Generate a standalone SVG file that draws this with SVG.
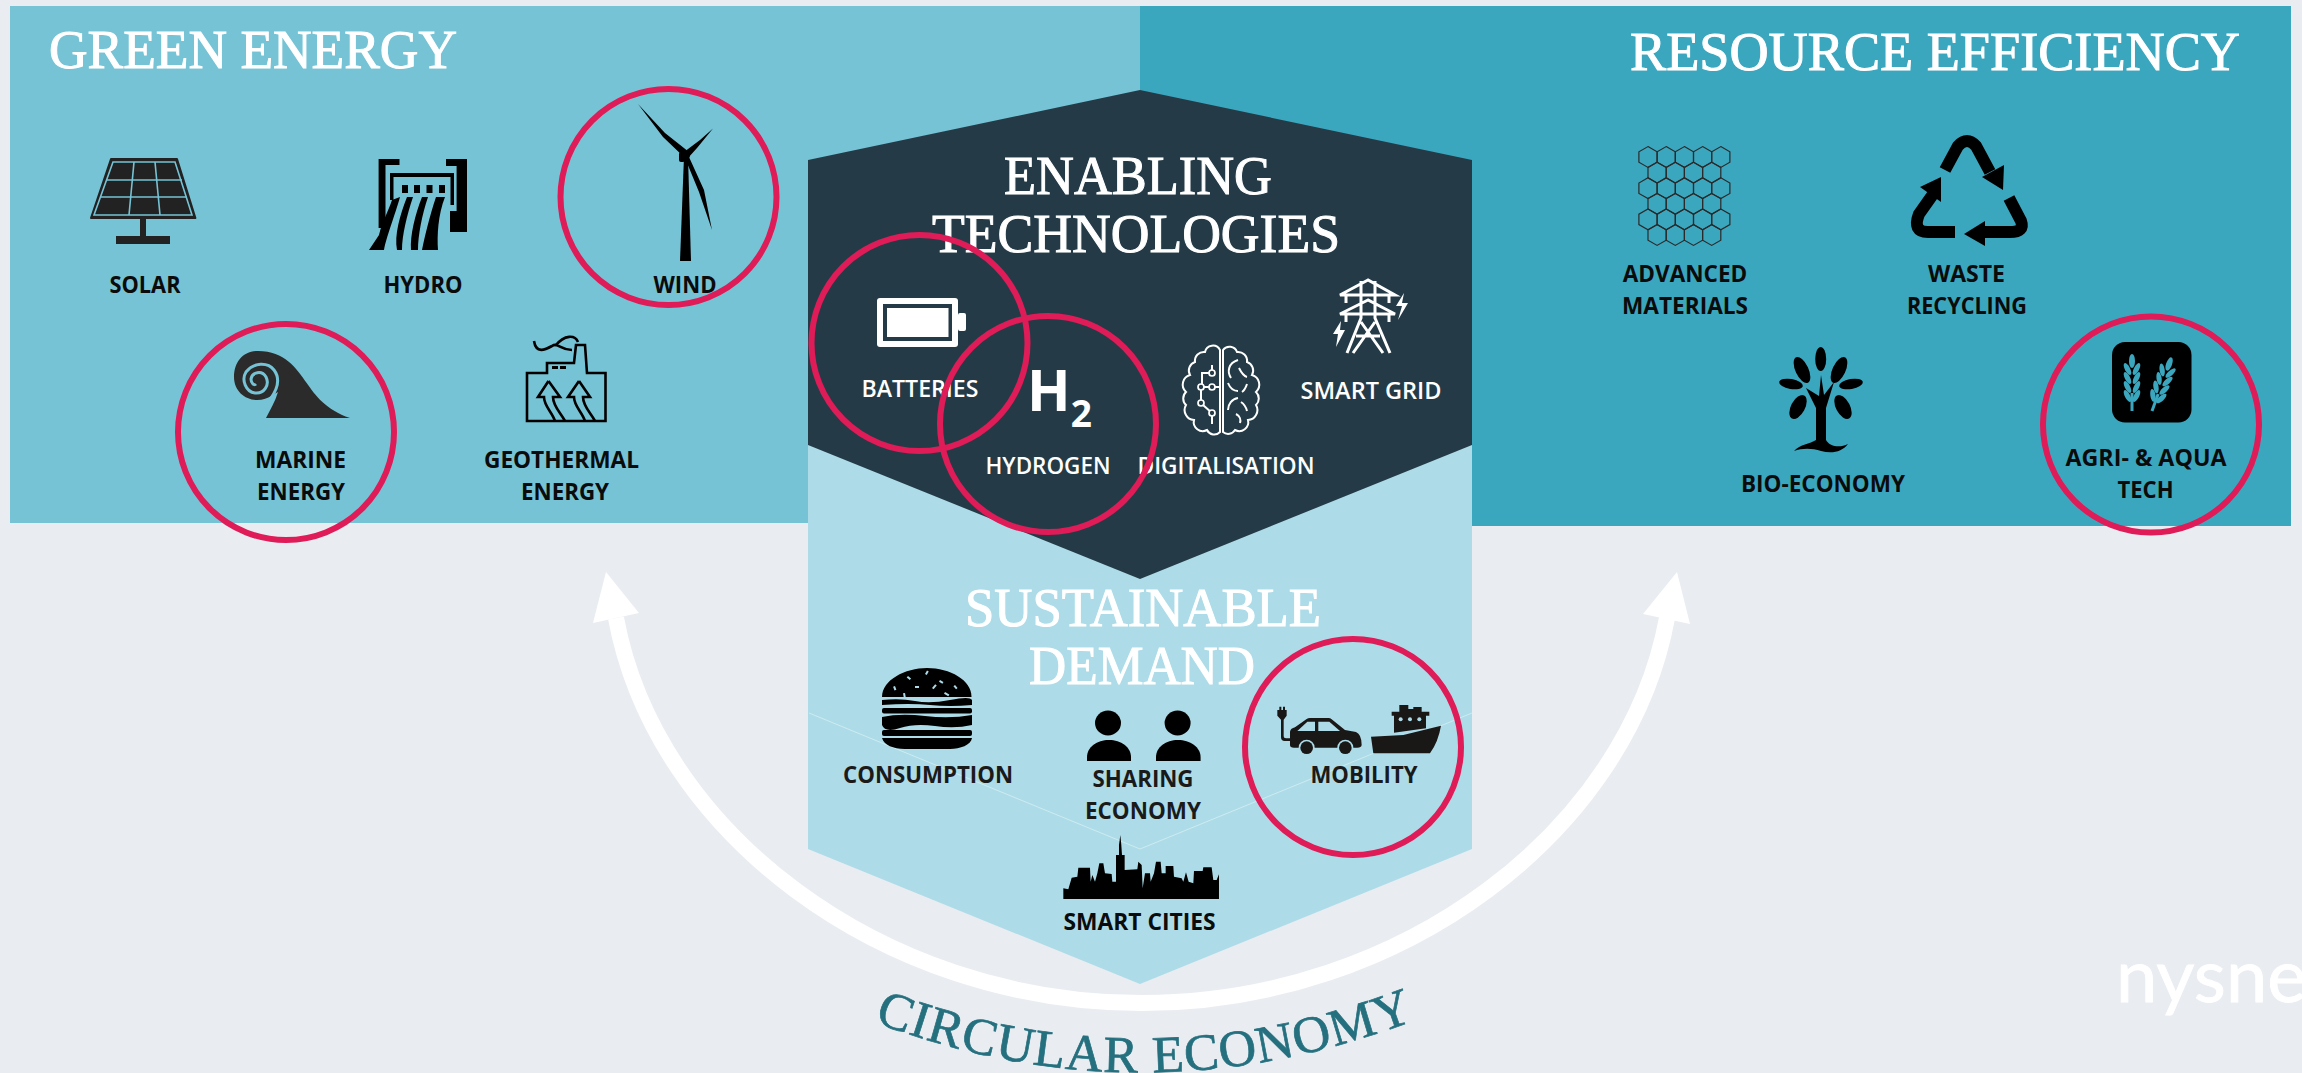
<svg xmlns="http://www.w3.org/2000/svg" width="2302" height="1073" viewBox="0 0 2302 1073">
<style>
.t{font-family:"Liberation Serif","DejaVu Serif",serif;font-size:54px;fill:#fff;stroke:#fff;stroke-width:1}
.k{font-family:"Open Sans","Liberation Sans",sans-serif;font-size:24px;font-weight:700;fill:#0b0b0b;text-anchor:middle}
.d{fill:#1a1a1a}
.w{font-family:"Open Sans","Liberation Sans",sans-serif;font-size:24px;font-weight:600;fill:#fff;text-anchor:middle}
.ring{fill:none;stroke:#DF1B58;stroke-width:6}
.shaft{fill:none;stroke:#fff;stroke-width:16}
</style>
<defs>
<polygon id="hex" points="0,-10.4 9.1,-5.2 9.1,5.2 0,10.4 -9.1,5.2 -9.1,-5.2" fill="none" stroke="#2a2a2a" stroke-width="1.2"/>
<g id="pair" fill="#3BA7BF"><ellipse cx="-4.5" cy="-42" rx="2.6" ry="6.5" transform="rotate(-28 -4.5 -42)"/><ellipse cx="4.5" cy="-42" rx="2.6" ry="6.5" transform="rotate(28 4.5 -42)"/></g>
<g id="wheat" fill="#3BA7BF">
<rect x="-1.5" y="-18" width="3" height="18"/>
<ellipse cx="0" cy="-50" rx="3" ry="7"/>
<use href="#pair"/><use href="#pair" y="9"/><use href="#pair" y="18"/><use href="#pair" y="27"/>
</g>
</defs>
<rect width="2302" height="1073" fill="#E9ECF1"/>
<g id="panels">
<rect x="10" y="6" width="1130" height="517" fill="#76C3D5"/>
<rect x="1140" y="6" width="1151" height="520" fill="#3BA7BF"/>
<polygon points="808,440 1472,440 1472,849 1140,984 808,849" fill="#ADDCE8"/>
<polyline points="809,713 1140,849 1472,713" fill="none" stroke="#CDEBF1" stroke-width="1"/>
<polygon points="1140,90 1472,160 1472,445 1140,579 808,445 808,160" fill="#243B47"/>
</g>
<g id="connectors">
<path class="shaft" d="M616 618C655 830 880 1003 1141.5 1003C1403 1003 1628 830 1667 618"/>
<polygon points="606,572 593,623 639,613" fill="#fff"/>
<polygon points="1677,572 1643,614 1690,624" fill="#fff"/>
</g>
<g id="titles">
<text class="t" x="49" y="68" textLength="408" lengthAdjust="spacingAndGlyphs">GREEN ENERGY</text>
<text class="t" x="1630" y="70" textLength="610" lengthAdjust="spacingAndGlyphs">RESOURCE EFFICIENCY</text>
<text class="t" x="1004" y="194" textLength="268" lengthAdjust="spacingAndGlyphs">ENABLING</text>
<text class="t" x="932" y="252" textLength="408" lengthAdjust="spacingAndGlyphs">TECHNOLOGIES</text>
<text class="t" x="965" y="626" textLength="356" lengthAdjust="spacingAndGlyphs">SUSTAINABLE</text>
<text class="t" x="1029" y="684" textLength="226" lengthAdjust="spacingAndGlyphs">DEMAND</text>
<path id="ce" d="M880 1024Q1142 1122 1410 1022" fill="none"/>
<text font-family="Liberation Serif,serif" font-size="52" fill="#25707F" stroke="#25707F" stroke-width=".7" text-anchor="middle" letter-spacing="1"><textPath href="#ce" startOffset="50%">CIRCULAR ECONOMY</textPath></text>
</g>
<g id="solar">
<polygon points="111,159 177,159 195.4,218 91,218" fill="#222" stroke="#222" stroke-width="2" stroke-linejoin="round"/>
<g stroke="#76C3D5" stroke-width="1.6" fill="none">
<polygon points="113,162 175,162 192,215 94,215"/>
<line x1="106" y1="180" x2="182" y2="180"/><line x1="101" y1="197" x2="187" y2="197"/>
<line x1="134" y1="162" x2="129" y2="215"/><line x1="155" y1="162" x2="160" y2="215"/>
</g>
<rect x="140" y="218" width="6" height="19" fill="#222"/><rect x="116" y="236" width="54" height="8" fill="#222"/>
<text class="k" x="145" y="293" textLength="71" lengthAdjust="spacingAndGlyphs">SOLAR</text>
</g>
<g id="hydro" fill="#000">
<path d="M378.6 159H399.5V165H385.5V228H378.6Z"/><path d="M446 159H467V232H450V211H456.6V166H446Z"/>
<path d="M390 200V173H454V205H450.5V177H393.5V200Z"/>
<rect x="402" y="185" width="6" height="8"/><rect x="414" y="185" width="6" height="8"/><rect x="426.5" y="185" width="6" height="8"/><rect x="439" y="185" width="6" height="8"/>
<path d="M392 200C388 212 382 222 379 235L369 250H384C386 238 395 215 400 197Z"/>
<path d="M407 197C400 215 394 235 397 250H402C402 235 407 215 413 197Z"/>
<path d="M422 197C415 215 410 235 411 250H418C418 235 422 215 428 197Z"/>
<path d="M436 197C430 215 425 235 422 250H438C437 235 438 215 445 197Z"/>
<text class="k" x="423" y="293" textLength="79" lengthAdjust="spacingAndGlyphs">HYDRO</text>
</g>
<g id="wind" fill="#000">
<polygon points="684,156 688,156 691,261 680,261"/>
<circle cx="686" cy="155" r="4"/><rect x="679" y="152" width="6" height="10" rx="2"/>
<path d="M638 104L665 133L689 152L684 157L663 137Z"/>
<path d="M713 128.6L697 148L688 158L684 152L700 140Z"/>
<path d="M712 230L704 190L689 157L685 158L699 192Z"/>
<text class="k" x="685" y="293" textLength="63" lengthAdjust="spacingAndGlyphs">WIND</text>
</g>
<g id="marine">
<path d="M350 418C326 410 315 395 306.7 383C296 368 285 351 258 351C243 351 234 362 234 377C234 391 245 400 257 400C263 400 268 398 271 396L278 392C275 402 270 410 266 418Z" fill="#2b2b2b"/>
<path d="M271 398C278 388 280 378 274 370C268 362 254 362 246 372C241 380 246 392 255 393C264 394 270 385 266 377C262 370 252 372 251 379C251 383 254 386 256 384" fill="none" stroke="#76C3D5" stroke-width="3"/>
<text class="k" x="300.5" y="468" textLength="91" lengthAdjust="spacingAndGlyphs">MARINE</text><text class="k" x="301" y="500" textLength="88" lengthAdjust="spacingAndGlyphs">ENERGY</text>
</g>
<g id="geothermal">
<g fill="none" stroke="#000" stroke-width="2.6">
<path d="M527 373H547V363H574L576 345H585L587 373H605.5V421H527Z"/>
<path d="M534 341C536 354 545 350 552 346C558 342 560 350 572 350M555 346C565 334 575 335 578 342"/>
<path d="M548.5 381L538 397H544C544 406 552 412 555 421M548.5 381L560 397H553C553 406 560 412 565 421"/>
<path d="M579 381L568 397H574C574 406 582 412 585 421M579 381L590 397H583C583 406 590 412 595 421"/>
</g>
<rect x="552" y="366" width="6" height="3" fill="#000"/><rect x="560" y="366" width="6" height="3" fill="#000"/>
<text class="k" x="561.5" y="468" textLength="155" lengthAdjust="spacingAndGlyphs">GEOTHERMAL</text><text class="k" x="565" y="500" textLength="88" lengthAdjust="spacingAndGlyphs">ENERGY</text>
</g>
<g id="batteries">
<rect x="958" y="313" width="8" height="18" rx="2" fill="#fff"/>
<rect x="877" y="298" width="81" height="49" rx="3" fill="#fff"/>
<rect x="883" y="304" width="69" height="37" fill="#243B47"/>
<rect x="887" y="308" width="61.5" height="29" fill="#fff"/>
<text class="w" x="920" y="397" textLength="117" lengthAdjust="spacingAndGlyphs">BATTERIES</text>
</g>
<g id="hydrogen">
<text font-family="Open Sans,Liberation Sans,sans-serif" font-weight="700" font-size="57" fill="#fff" x="1027" y="411">H<tspan font-size="37" dy="16">2</tspan></text>
<text class="w" x="1048" y="474" textLength="125" lengthAdjust="spacingAndGlyphs">HYDROGEN</text>
</g>
<g id="digitalisation">
<g fill="none" stroke="#fff" stroke-width="2">
<path d="M1220 350A8 8 0 0 0 1205 352A9 9 0 0 0 1195 362A9 9 0 0 0 1190 375A10 10 0 0 0 1186 392A9 9 0 0 0 1186 405A10 10 0 0 0 1194 420A9 9 0 0 0 1207 430A8 8 0 0 0 1220 432Z"/>
<path d="M1223 350A8 8 0 0 1 1237 352A9 9 0 0 1 1247 362A9 9 0 0 1 1252 375A10 10 0 0 1 1256 392A9 9 0 0 1 1256 405A10 10 0 0 1 1248 420A9 9 0 0 1 1235 430A8 8 0 0 1 1223 432Z"/>
<path d="M1212 373H1202V384M1212 365V373M1204 387H1219M1201 390V400M1203 405L1212 413M1212 416V424"/>
<path d="M1238 360C1228 363 1227 372 1231 378M1239 368C1241 372 1243 376 1247 377M1228 383C1230 388 1234 391 1238 391M1247 384Q1245 390 1242 392M1228 410C1228 404 1232 399 1238 398M1241 402C1244 404 1246 407 1247 411M1236 414C1240 416 1241 420 1240 423"/>
</g>
<g fill="#243B47" stroke="#fff" stroke-width="1.7"><circle cx="1212" cy="373" r="3"/><circle cx="1212" cy="387" r="3"/><circle cx="1201" cy="387" r="3"/><circle cx="1201" cy="403" r="3"/><circle cx="1212" cy="413" r="3"/></g>
<text class="w" x="1226" y="474" textLength="177" lengthAdjust="spacingAndGlyphs">DIGITALISATION</text>
</g>
<g id="smart-grid">
<g fill="none" stroke="#fff" stroke-width="3">
<path d="M1368 280L1340 295H1395ZM1368 300L1340 314H1395ZM1361 281V318L1347 353M1375 281V318L1390 353M1361 322L1383 353M1375 322L1353 353M1356 336H1380M1346 295V303M1389 295V303M1346 314V322M1389 314V322"/>
</g>
<polygon points="1404,293 1396,306 1402,306 1398,320 1408,303 1402,303" fill="#fff"/>
<polygon points="1341,321 1333,334 1338,334 1336,347 1345,330 1340,330" fill="#fff"/>
<text class="w" x="1371" y="399" textLength="141" lengthAdjust="spacingAndGlyphs">SMART GRID</text>
</g>
<g id="advanced-materials">
<use href="#hex" x="1648" y="157"/><use href="#hex" x="1666.2" y="157"/><use href="#hex" x="1684.4" y="157"/><use href="#hex" x="1702.6" y="157"/><use href="#hex" x="1720.8" y="157"/>
<use href="#hex" x="1657.1" y="172.6"/><use href="#hex" x="1675.3" y="172.6"/><use href="#hex" x="1693.5" y="172.6"/><use href="#hex" x="1711.7" y="172.6"/>
<use href="#hex" x="1648" y="188.2"/><use href="#hex" x="1666.2" y="188.2"/><use href="#hex" x="1684.4" y="188.2"/><use href="#hex" x="1702.6" y="188.2"/><use href="#hex" x="1720.8" y="188.2"/>
<use href="#hex" x="1657.1" y="203.8"/><use href="#hex" x="1675.3" y="203.8"/><use href="#hex" x="1693.5" y="203.8"/><use href="#hex" x="1711.7" y="203.8"/>
<use href="#hex" x="1648" y="219.4"/><use href="#hex" x="1666.2" y="219.4"/><use href="#hex" x="1684.4" y="219.4"/><use href="#hex" x="1702.6" y="219.4"/><use href="#hex" x="1720.8" y="219.4"/>
<use href="#hex" x="1657.1" y="235"/><use href="#hex" x="1675.3" y="235"/><use href="#hex" x="1693.5" y="235"/><use href="#hex" x="1711.7" y="235"/>
<text class="k" x="1685" y="282" textLength="124.5" lengthAdjust="spacingAndGlyphs">ADVANCED</text><text class="k" x="1685" y="314" textLength="126" lengthAdjust="spacingAndGlyphs">MATERIALS</text>
</g>
<g id="waste-recycling">
<g fill="none" stroke="#000" stroke-width="12">
<path d="M1945 170L1958 146Q1967 136 1976 146L1990 172"/>
<path d="M1955 232H1928Q1912 232 1919 214L1936 190"/>
<path d="M2009 198L2021 221Q2025 232 2010 232H1983"/>
</g>
<polygon points="2003,190 2004,165 1982,177"/><polygon points="1941,177 1920,187 1941,202"/><polygon points="1964,234 1985,221 1985,246"/>
<text class="k" x="1966.5" y="282" textLength="77" lengthAdjust="spacingAndGlyphs">WASTE</text><text class="k" x="1967" y="314" textLength="120" lengthAdjust="spacingAndGlyphs">RECYCLING</text>
</g>
<g id="bio-economy" fill="#000">
<ellipse cx="1820.7" cy="359" rx="5.5" ry="12"/>
<ellipse cx="1802" cy="370" rx="6.5" ry="14" transform="rotate(-25 1802 370)"/><ellipse cx="1839" cy="370" rx="6.5" ry="14" transform="rotate(25 1839 370)"/>
<ellipse cx="1791" cy="384" rx="12" ry="5" transform="rotate(10 1791 384)"/><ellipse cx="1851" cy="384" rx="12" ry="5" transform="rotate(-10 1851 384)"/>
<ellipse cx="1798" cy="407" rx="7" ry="13" transform="rotate(28 1798 407)"/><ellipse cx="1843" cy="407" rx="7" ry="13" transform="rotate(-28 1843 407)"/>
<path d="M1821 375L1824 395L1834 382L1826 408L1826 440C1830 447 1840 448 1848 444C1842 452 1832 454 1821 451C1812 448 1802 448 1794 451C1800 444 1810 444 1816 440V408L1806 388L1819 396Z"/>
<text class="k" x="1823" y="492" textLength="164" lengthAdjust="spacingAndGlyphs">BIO-ECONOMY</text>
</g>
<g id="agri-aqua">
<rect x="2112" y="342" width="79.5" height="80.5" rx="13" fill="#000"/>
<use href="#wheat" x="2132" y="411"/>
<use href="#wheat" transform="translate(2152 411) rotate(20)"/>
<text class="k" x="2146" y="466" textLength="161" lengthAdjust="spacingAndGlyphs">AGRI- &amp; AQUA</text><text class="k" x="2145.5" y="498" textLength="56" lengthAdjust="spacingAndGlyphs">TECH</text>
</g>
<g id="consumption">
<g fill="#000">
<path d="M882 697C882 680 905 668 927 668C950 668 971.5 680 971.5 697Z"/>
<path d="M882 700Q900 698 915 701T950 700T972 700V705Q950 707 930 705T882 705Z"/>
<rect x="882" y="708" width="90" height="5.5" rx="2"/>
<path d="M882 717Q900 713 925 716T972 715V725Q955 729 935 726T900 728T882 725Z"/>
<rect x="882" y="730" width="90" height="6" rx="2"/>
<path d="M882 738H972C971 745 960 749 950 749H905C893 749 884 745 882 738Z"/>
</g>
<g fill="#ADDCE8"><rect x="908" y="676" width="4" height="2" transform="rotate(40 908 676)"/><rect x="925" y="674" width="4" height="2" transform="rotate(-60 925 674)"/><rect x="940" y="680" width="4" height="2" transform="rotate(30 940 680)"/><rect x="955" y="685" width="4" height="2" transform="rotate(50 955 685)"/><rect x="895" y="686" width="4" height="2" transform="rotate(70 895 686)"/><rect x="915" y="686" width="4" height="2"/><rect x="932" y="688" width="5" height="2" transform="rotate(-50 932 688)"/><rect x="905" y="693" width="4" height="2" transform="rotate(80 905 693)"/><rect x="945" y="692" width="5" height="2" transform="rotate(30 945 692)"/></g>
<text class="k d" x="928" y="783" textLength="170" lengthAdjust="spacingAndGlyphs">CONSUMPTION</text>
</g>
<g id="sharing-economy" fill="#000">
<ellipse cx="1108" cy="723" rx="13" ry="12.5"/><path d="M1087 761V757C1087 747 1097 740 1109 740C1121 740 1131 747 1131 757V761Z"/>
<ellipse cx="1177.6" cy="723" rx="13" ry="12.5"/><path d="M1156 761V757C1156 747 1166 740 1178 740C1190 740 1200.6 747 1200.6 757V761Z"/>
<text class="k d" x="1143" y="787" textLength="101" lengthAdjust="spacingAndGlyphs">SHARING</text><text class="k d" x="1143" y="819" textLength="116" lengthAdjust="spacingAndGlyphs">ECONOMY</text>
</g>
<g id="mobility">
<g transform="translate(1270 695) scale(.3333)" fill="#1a1717">
<path d="M28 35H34V45H39V35H45V45H50V62L41 74V124Q41 130 48 130H65V138H44Q33 138 33 126V74L22 62V45H28Z"/>
<path d="M60 150V110Q62 100 75 97L110 72Q114 69 120 69H175Q181 69 185 73L225 105L258 111Q275 118 275 150Q274 158 262 158H72Q60 158 60 150Z"/>
<path d="M82 108L112 80H135V108Z" fill="#ADDCE8"/><path d="M145 80H178L210 108H145Z" fill="#ADDCE8"/>
<circle cx="110" cy="158" r="24" fill="#ADDCE8"/><circle cx="226" cy="158" r="24" fill="#ADDCE8"/>
<circle cx="110" cy="158" r="19"/><circle cx="226" cy="158" r="19"/>
<path d="M303 125L400 120L513 92Q505 140 480 175H310Z"/>
<path d="M365 50H388V30H415V42H430V36H455V50H478V62H468V100L372 113V62H365Z"/>
<circle cx="392" cy="73" r="6" fill="#ADDCE8"/><circle cx="420" cy="73" r="6" fill="#ADDCE8"/><circle cx="448" cy="73" r="6" fill="#ADDCE8"/>
</g>
<text class="k d" x="1364" y="783" textLength="107" lengthAdjust="spacingAndGlyphs">MOBILITY</text>
</g>
<g id="smart-cities">
<polygon transform="translate(1050 830) scale(.3333)" fill="#000" points="40,207 40,175 55,178 65,143 82,140 85,113 120,113 122,155 127,135 135,155 142,130 148,100 160,100 165,130 185,132 187,155 198,155 198,75 207,75 207,45 211,15 214,45 216,75 224,75 224,120 262,118 265,95 275,105 278,175 285,130 300,130 302,155 312,130 318,95 332,95 335,130 347,130 347,108 370,108 372,140 395,145 400,155 408,127 416,155 430,160 432,123 458,123 460,112 485,112 490,150 500,150 507,133 507,207"/>
<text class="k" x="1139.5" y="930" fill="#111" textLength="152" lengthAdjust="spacingAndGlyphs">SMART CITIES</text>
</g>
<g id="highlights">
<circle class="ring" cx="668.5" cy="197" r="108"/>
<circle class="ring" cx="286" cy="432" r="108"/>
<circle class="ring" cx="919.5" cy="343" r="108"/>
<circle class="ring" cx="1048" cy="424" r="108"/>
<circle class="ring" cx="2151" cy="424.5" r="108"/>
<circle class="ring" cx="1353" cy="747" r="108"/>
</g>
<text id="logo" x="2116" y="1002" font-family="Lato,Open Sans,sans-serif" font-size="74" fill="#fff" stroke="#fff" stroke-width=".8">nysne</text>
</svg>
